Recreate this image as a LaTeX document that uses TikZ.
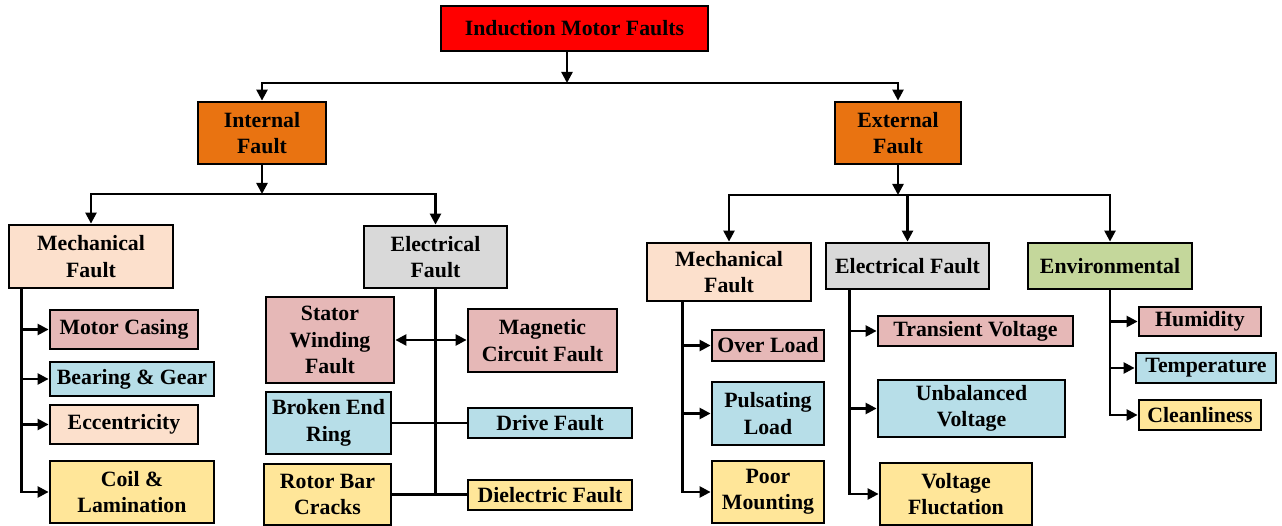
\documentclass[tikz,border=0pt]{standalone}
\usepackage{fontspec}
\setmainfont{Liberation Serif}
\usetikzlibrary{arrows.meta,calc}
\definecolor{cred}{HTML}{FF0000}
\definecolor{corange}{HTML}{E97311}
\definecolor{cpeach}{HTML}{FCE0CC}
\definecolor{cgray}{HTML}{D9D9D9}
\definecolor{cpink}{HTML}{E6B8B7}
\definecolor{cblue}{HTML}{B7DEE8}
\definecolor{cyellow}{HTML}{FFE699}
\definecolor{cgreen}{HTML}{C4D79B}
\tikzset{
  box/.style={draw=black, line width=2.8pt, inner sep=0pt, align=center,
    font=\fontsize{21.8}{26.5}\selectfont\bfseries},
  conn/.style={line width=2.4pt},
  tip/.style={Triangle[length=11pt,width=11pt]},
  arr/.style={line width=2.4pt, -{Triangle[length=11pt,width=11pt]}},
  darr/.style={line width=2.4pt, {Triangle[length=11pt,width=11pt]}-{Triangle[length=11pt,width=11pt]}},
}
\newcommand{\bx}[7]{\node[box, fill=#6, minimum width=#4, minimum height=#5] (#1) at (#2,#3) {#7};}
\begin{document}
\begin{tikzpicture}[x=1pt,y=-1pt]
\useasboundingbox (0,0) rectangle (1282,526);
% level 0/1
\bx{top}{574.5}{28.5}{267}{45}{cred}{Induction Motor Faults}
\bx{internal}{262}{133}{128}{62}{corange}{Internal\\Fault}
\bx{external}{898}{133}{126}{62}{corange}{External\\Fault}
% internal children
\bx{mechL}{91}{256.5}{164}{63}{cpeach}{Mechanical\\Fault}
\bx{elecL}{435.5}{257}{143}{62}{cgray}{Electrical\\Fault}
\bx{casing}{124}{329.5}{148}{39}{cpink}{Motor Casing}
\bx{bearing}{132}{379}{164}{34}{cblue}{Bearing \& Gear}
\bx{ecc}{124}{424.5}{148}{39}{cpeach}{Eccentricity}
\bx{coil}{132}{492}{164}{62}{cyellow}{Coil \&\\Lamination}
\bx{stator}{330}{340}{128}{86}{cpink}{Stator\\Winding\\Fault}
\bx{magnetic}{542.5}{340.5}{149}{63}{cpink}{Magnetic\\Circuit Fault}
\bx{broken}{328.5}{423}{125}{62}{cblue}{Broken End\\Ring}
\bx{drive}{550}{423}{164}{30}{cblue}{Drive Fault}
\bx{rotor}{327.5}{494.5}{127}{61}{cyellow}{Rotor Bar\\Cracks}
\bx{dielectric}{550}{495}{164}{30}{cyellow}{Dielectric Fault}
% external children
\bx{mechR}{729}{272}{164}{58}{cpeach}{Mechanical\\Fault}
\bx{elecR}{907.5}{266}{163}{46}{cgray}{Electrical Fault}
\bx{env}{1110}{266}{164}{46}{cgreen}{Environmental}
\bx{overload}{768}{345.5}{112}{31}{cpink}{Over Load}
\bx{pulsating}{768}{413.5}{112}{63}{cblue}{Pulsating\\Load}
\bx{poor}{768}{492}{112}{62}{cyellow}{Poor\\Mounting}
\bx{transient}{975.5}{331}{195}{30}{cpink}{Transient Voltage}
\bx{unbalanced}{971.5}{408.5}{187}{57}{cblue}{Unbalanced\\Voltage}
\bx{fluct}{956}{494}{152}{62}{cyellow}{Voltage\\Fluctation}
\bx{humidity}{1200}{321.5}{122}{29}{cpink}{Humidity}
\bx{temperature}{1206}{368}{140}{30}{cblue}{Temperature}
\bx{clean}{1200}{415}{122}{30}{cyellow}{Cleanliness}
% junctions
\coordinate (j0) at (567,83);
\coordinate (j1) at (262,194);
\coordinate (j2) at (898,195);
% top level connectors
\draw[arr] (top.south -| j0) -- (j0);
\draw[arr] (j0) -| (internal.north);
\draw[arr] (j0) -| (external.north);
\draw[arr] (internal.south) -- (j1);
\draw[arr] (j1) -| (mechL.north);
\draw[arr] (j1) -| (elecL.north);
\draw[arr] (external.south) -- (j2);
\draw[arr] (j2) -| (mechR.north);
\draw[arr] (j2) -| (elecR.north);
\draw[arr] (j2) -| (env.north);
% internal mechanical bus
\foreach \c in {casing,bearing,ecc,coil}
  \draw[arr] ($(mechL.south west)+(14,0)$) |- (\c.west);
% internal electrical bus
\draw[conn] (elecL.south) -- (elecL.south |- rotor.east);
\draw[darr] (stator.east) -- (magnetic.west |- stator.east);
\draw[conn] (broken.east) -- (drive.west |- broken.east);
\draw[conn] (rotor.east) -- (dielectric.west |- rotor.east);
% external buses
\foreach \c in {overload,pulsating,poor}
  \draw[arr] ($(mechR.south west)+(37,0)$) |- (\c.west);
\foreach \c in {transient,unbalanced,fluct}
  \draw[arr] ($(elecR.south west)+(25,0)$) |- (\c.west);
\foreach \c in {humidity,temperature,clean}
  \draw[arr] (env.south) |- (\c.west);
\end{tikzpicture}
\end{document}
